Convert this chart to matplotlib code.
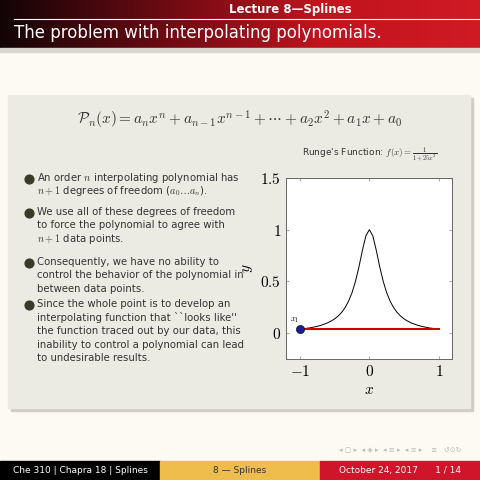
import numpy as np
import matplotlib
matplotlib.use("Agg")
import matplotlib.pyplot as plt
from matplotlib.patches import Rectangle
from matplotlib.colors import LinearSegmentedColormap

# Runge function values read at x = -1..1 step 0.05
x_half = [0.0, 0.05, 0.1, 0.15, 0.2, 0.25, 0.3, 0.35, 0.4, 0.45, 0.5, 0.55, 0.6, 0.65, 0.7, 0.75, 0.8, 0.85, 0.9, 0.95, 1.0]
y_half = [1.0, 0.941, 0.8, 0.64, 0.5, 0.39, 0.308, 0.246, 0.2, 0.165, 0.138, 0.117, 0.1, 0.087, 0.075, 0.066, 0.059, 0.052, 0.047, 0.042, 0.0385]
curve_x = [-v for v in x_half[::-1]] + x_half[1:]
curve_y = y_half[::-1] + y_half[1:]
line_x = [-1, 1]
line_y = [0.0385, 0.0385]
pt_x, pt_y = [-1], [0.0385]
xticks = [-1, 0, 1]
xtick_labels = ["$-1$", "$0$", "$1$"]
yticks = [0, 0.5, 1, 1.5]
ytick_labels = ["$0$", "$0.5$", "$1$", "$1.5$"]

plt.rcParams["mathtext.fontset"] = "cm"
W = H = 480
fig = plt.figure(figsize=(4.8, 4.8), dpi=100)
fig.patch.set_facecolor("#fcfaf2")
bg = fig.add_axes([0, 0, 1, 1]); bg.set_xlim(0, W); bg.set_ylim(H, 0); bg.axis("off")

grad = np.linspace(0, 1, 256)[None, :]
cm = LinearSegmentedColormap.from_list("h", ["#120406", "#6a0a12", "#c0141e", "#d01a24"])
bg.imshow(grad, cmap=cm, extent=[0, W, 48, 0], aspect="auto", zorder=0)
bg.plot([14, 480], [19, 19], color="white", lw=0.8)
bg.text(290, 10, "Lecture 8—Splines", color="white", fontsize=8.5, ha="center", va="center", fontweight="bold")
bg.text(14, 33, "The problem with interpolating polynomials.", color="white", fontsize=12, ha="left", va="center")
bg.add_patch(Rectangle((0, 48), W, 4, color="#d8d6cf", zorder=1))

bg.add_patch(Rectangle((11, 98), 462, 313, color="#cfcdc6", zorder=1))
bg.add_patch(Rectangle((8, 95), 462, 313, color="#ecebe3", zorder=2))

bg.text(240, 120, r"$\mathcal{P}_n(x) = a_n x^n + a_{n-1}x^{n-1} + \cdots + a_2x^2 + a_1x + a_0$",
        fontsize=11, ha="center", va="center", color="#333333", zorder=3)

bullets = [
    (178, ["An order $n$ interpolating polynomial has", "$n+1$ degrees of freedom ($a_0 \\ldots a_n$)."]),
    (212, ["We use all of these degrees of freedom", "to force the polynomial to agree with", "$n+1$ data points."]),
    (262, ["Consequently, we have no ability to", "control the behavior of the polynomial in", "between data points."]),
    (304, ["Since the whole point is to develop an", "interpolating function that ``looks like''", "the function traced out by our data, this",
           "inability to control a polynomial can lead", "to undesirable results."]),
]
for y0, lines in bullets:
    bg.scatter([29], [y0 + 1], s=40, color="#3a3a2a", zorder=4)
    for i, ln in enumerate(lines):
        bg.text(37, y0 + i * 13.5, ln, fontsize=7.3, ha="left", va="center", color="#333333", zorder=4)

bg.text(370, 155, r"Runge's Function: $f(x)=\frac{1}{1+25x^2}$", fontsize=6.5, ha="center", va="center", color="#333333", zorder=4)

bg.add_patch(Rectangle((0, 461), 160, 19, color="#000000", zorder=3))
bg.add_patch(Rectangle((160, 461), 160, 19, color="#eebd4c", zorder=3))
bg.add_patch(Rectangle((320, 461), 160, 19, color="#d0152a", zorder=3))
bg.text(80, 470.5, "Che 310 | Chapra 18 | Splines", color="white", fontsize=6.5, ha="center", va="center", zorder=4)
bg.text(240, 470.5, "8 — Splines", color="#333333", fontsize=6.5, ha="center", va="center", zorder=4)
bg.text(400, 470.5, "October 24, 2017      1 / 14", color="white", fontsize=6.5, ha="center", va="center", zorder=4)
bg.text(400, 450, "◂ ▢ ▸  ◂ ◈ ▸  ◂ ≡ ▸  ◂ ≡ ▸    ≡   ↺⊙↻", color="#bbbbbb", fontsize=5, ha="center", va="center", zorder=4)

ax = fig.add_axes([286 / W, 1 - 359 / H, (452 - 286) / W, (359 - 178) / H])
ax.set_facecolor("white")
ax.plot(curve_x, curve_y, color="black", lw=0.7)
ax.plot(line_x, line_y, color="#d40000", lw=1.5)
ax.scatter(pt_x, pt_y, s=35, color="#1a1aa0", edgecolor="black", linewidth=0.4, zorder=5)
ax.text(-1.07, 0.08, "$x_1$", fontsize=6, ha="center", va="bottom")
ax.set_xlim(-1.2, 1.19)
ax.set_ylim(-0.25, 1.5)
ax.set_xticks(xticks); ax.set_yticks(yticks)
ax.set_xticklabels(xtick_labels); ax.set_yticklabels(ytick_labels)
ax.tick_params(labelsize=11, direction="in", length=2.5, color="#aaaaaa", top=True, right=True)
for s in ax.spines.values():
    s.set_color("#666666"); s.set_linewidth(0.7)
ax.set_xlabel("$x$", fontsize=11, labelpad=2)
ax.set_ylabel("$y$", fontsize=11, labelpad=4)

fig.savefig("out.png", dpi=100, facecolor=fig.get_facecolor())
